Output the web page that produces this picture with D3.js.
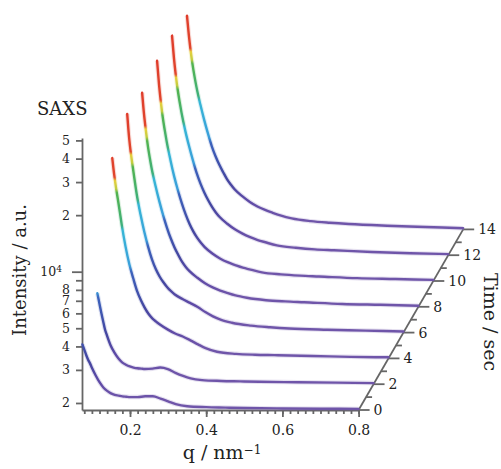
<!DOCTYPE html>
<html>
<head>
<meta charset="utf-8">
<title>SAXS waterfall</title>
<script src="https://d3js.org/d3.v7.min.js"></script>
<style>
  body { margin: 0; background: #fff; }
  svg text { font-family: "DejaVu Serif", serif; fill: #222; }
  .axis path, .axis line { stroke: #666; stroke-width: 1.8; }
</style>
</head>
<body>
<div id="chart"></div>
<script>
// q grid (nm^-1), shared by all frames
const qValues = [0.075, 0.08, 0.085, 0.09, 0.095, 0.1, 0.11, 0.12, 0.13, 0.14, 0.15, 0.16, 0.17, 0.18, 0.19,
                 0.2, 0.22, 0.24, 0.26, 0.28, 0.3, 0.32, 0.35, 0.4, 0.45, 0.5, 0.6, 0.7, 0.8];

// intensity, in 10^3 a.u., one array per time frame
const intensity0  = [4.1, 3.85, 3.6, 3.4, 3.25, 3.08, 2.8, 2.58, 2.42, 2.32, 2.25, 2.21, 2.19, 2.17, 2.16,
                     2.15, 2.15, 2.17, 2.17, 2.11, 2.04, 1.97, 1.92, 1.9, 1.89, 1.88, 1.87, 1.865, 1.86];
const intensity2  = [5.6, 5.0, 4.45, 4.0, 3.6, 3.35, 2.95, 2.7, 2.52, 2.4, 2.33, 2.28, 2.25, 2.23, 2.22,
                     2.21, 2.22, 2.25, 2.21, 2.11, 2.03, 1.97, 1.93, 1.91, 1.9, 1.89, 1.88, 1.87, 1.86];
const intensity4  = [21.4, 17.5, 14.8, 12.8, 11.0, 9.4, 7.2, 5.8, 4.9, 4.2, 3.75, 3.42, 3.17, 3.0, 2.88,
                     2.78, 2.62, 2.49, 2.4, 2.29, 2.18, 2.08, 1.99, 1.94, 1.92, 1.91, 1.89, 1.87, 1.86];
const intensity6  = [26.8, 20.0, 16.3, 13.8, 11.7, 10.0, 7.8, 6.3, 5.25, 4.5, 4.0, 3.65, 3.4, 3.2, 3.05,
                     2.93, 2.77, 2.64, 2.51, 2.36, 2.24, 2.15, 2.07, 2.0, 1.96, 1.93, 1.9, 1.88, 1.86];
const intensity8  = [25.3, 19.4, 15.8, 13.2, 11.4, 10.0, 8.1, 6.7, 5.65, 4.85, 4.25, 3.8, 3.46, 3.18, 2.98,
                     2.83, 2.62, 2.45, 2.33, 2.24, 2.17, 2.11, 2.05, 1.99, 1.96, 1.94, 1.9, 1.88, 1.86];
const intensity10 = [27.3, 20.5, 16.4, 13.6, 11.7, 10.2, 8.1, 6.6, 5.55, 4.75, 4.15, 3.7, 3.37, 3.12, 2.93,
                     2.78, 2.57, 2.42, 2.31, 2.23, 2.16, 2.11, 2.04, 1.99, 1.96, 1.94, 1.9, 1.88, 1.86];
const intensity12 = [27.1, 20.6, 16.6, 13.9, 12.0, 10.5, 8.4, 6.95, 5.85, 5.0, 4.4, 3.95, 3.6, 3.32, 3.1,
                     2.93, 2.7, 2.52, 2.39, 2.29, 2.21, 2.15, 2.07, 2.01, 1.97, 1.95, 1.91, 1.88, 1.86];
const intensity14 = [25.2, 19.8, 16.2, 13.7, 11.9, 10.5, 8.5, 7.05, 5.95, 5.1, 4.5, 4.05, 3.7, 3.4, 3.18,
                     3.0, 2.76, 2.57, 2.43, 2.33, 2.25, 2.18, 2.1, 2.03, 1.99, 1.96, 1.92, 1.89, 1.86];

const times = [0, 2, 4, 6, 8, 10, 12, 14];
const series = [intensity0, intensity2, intensity4, intensity6, intensity8, intensity10, intensity12, intensity14];

// axis ticks
const yTickValues = [2000, 3000, 4000, 5000, 6000, 7000, 8000, 9000, 10000, 20000, 30000, 40000, 50000];
const yTickLabels = ["2", "3", "4", "5", "6", "7", "8", "", "10", "2", "3", "4", "5"];
const xMajorTicks = [0.2, 0.4, 0.6, 0.8];
const xMinorTicks = d3.range(4, 41).map(i => i / 50);
const timeTickValues = d3.range(0, 15);

// colour map: intensity (a.u.) -> colour
const colorStops = [
    [30000, "#df3a2b"], [16900, "#e0452c"], [16200, "#e6cf3c"], [14700, "#c2cd40"],
    [14000, "#52b34e"], [9400, "#3fb07a"], [8800, "#36b6d6"], [5700, "#3a9fda"],
    [5300, "#3c62bc"], [3400, "#4446a0"], [2600, "#5e4aa6"], [2100, "#6f55a9"], [1800, "#6f55a9"]
];

const svg = d3.select("#chart").append("svg").attr("width", 501).attr("height", 469);

const x = d3.scaleLinear().domain([0.074, 0.8]).range([82, 358.6]);
const y = d3.scaleLog().domain([1835, 51500]).range([410, 138]);
const step = { dx: 7.47, dy: -12.9 };   // screen shift per second of time

// vertical gradient, in the curves' own coordinates
const y1 = y(colorStops[0][0]), y2 = y(colorStops[colorStops.length - 1][0]);
const grad = svg.append("defs").append("linearGradient")
    .attr("id", "jet").attr("gradientUnits", "userSpaceOnUse")
    .attr("x1", 0).attr("x2", 0).attr("y1", y1).attr("y2", y2);
grad.selectAll("stop").data(colorStops).join("stop")
    .attr("offset", d => (y(d[0]) - y1) / (y2 - y1))
    .attr("stop-color", d => d[1]);

// axes
const yAxis = svg.append("g").attr("class", "axis").attr("transform", "translate(82,0)")
    .call(d3.axisLeft(y).tickValues(yTickValues).tickSize(6).tickSizeOuter(0).tickPadding(6)
        .tickFormat((d, i) => yTickLabels[i]));
yAxis.selectAll(".tick text").style("font-size", "12.5px").style("font-family", "DejaVu Serif");
const decade = yAxis.selectAll(".tick").filter(d => d === 10000);
decade.select("line").attr("x2", -10);
decade.select("text").attr("x", -20).append("tspan").attr("dy", "-0.45em").style("font-size", "9px").text("4");

const xAxis = svg.append("g").attr("class", "axis").attr("transform", "translate(0,410)");
xAxis.append("g").call(d3.axisBottom(x).tickValues(xMinorTicks).tickSize(4).tickSizeOuter(0).tickFormat(""));
xAxis.append("g").call(d3.axisBottom(x).tickValues(xMajorTicks).tickSize(7).tickSizeOuter(0).tickPadding(8)
    .tickFormat(d3.format(".1f")))
    .call(g => g.select(".domain").remove());
xAxis.selectAll(".tick text").style("font-size", "14px").style("font-family", "DejaVu Serif");

// time axis, drawn along the receding diagonal
const origin = [x(0.8), y.range()[0]];
const P = t => [origin[0] + t * step.dx, origin[1] + t * step.dy];
const tAxis = svg.append("g").attr("class", "axis");
tAxis.append("line")
    .attr("x1", P(0)[0]).attr("y1", P(0)[1]).attr("x2", P(14)[0]).attr("y2", P(14)[1]);
tAxis.selectAll(".tt").data(timeTickValues).join("line")
    .attr("x1", d => P(d)[0]).attr("y1", d => P(d)[1])
    .attr("x2", d => P(d)[0] + (d % 2 === 0 ? 11 : 6)).attr("y2", d => P(d)[1]);
tAxis.selectAll("text").data(timeTickValues.filter(d => d % 2 === 0)).join("text")
    .attr("x", d => P(d)[0] + 15).attr("y", d => P(d)[1]).attr("dy", "0.35em")
    .style("font-size", "14px").text(d => d);

// curves, back to front
const line = d3.line()
    .x((d, i) => x(qValues[i]))
    .y(d => y(d * 1000))
    .curve(d3.curveMonotoneX);

const frames = times.map((t, i) => ({ t, values: series[i] })).reverse();
const curves = svg.selectAll(".curve").data(frames).join("g")
    .attr("class", "curve")
    .attr("transform", d => `translate(${d.t * step.dx},${d.t * step.dy})`);
curves.append("path").attr("d", d => line(d.values))
    .attr("fill", "none").attr("stroke", "url(#jet)").attr("stroke-width", 4.5).attr("stroke-opacity", 0.18);
curves.append("path").attr("d", d => line(d.values))
    .attr("fill", "none").attr("stroke", "url(#jet)").attr("stroke-width", 2.4).attr("stroke-linecap", "round");

// titles
svg.append("text").attr("x", 37).attr("y", 115).style("font-size", "18px").text("SAXS");
svg.append("text").attr("transform", "translate(26,270) rotate(-90)").attr("text-anchor", "middle")
    .style("font-size", "18px").text("Intensity / a.u.");
svg.append("text").attr("x", 222).attr("y", 459).attr("text-anchor", "middle").style("font-size", "19px")
    .text("q / nm")
    .append("tspan").attr("dy", "-0.45em").style("font-size", "12px").text("\u22121");
svg.append("text").attr("transform", "translate(484,322) rotate(90)").attr("text-anchor", "middle")
    .style("font-size", "19px").text("Time / sec");
</script>
</body>
</html>
